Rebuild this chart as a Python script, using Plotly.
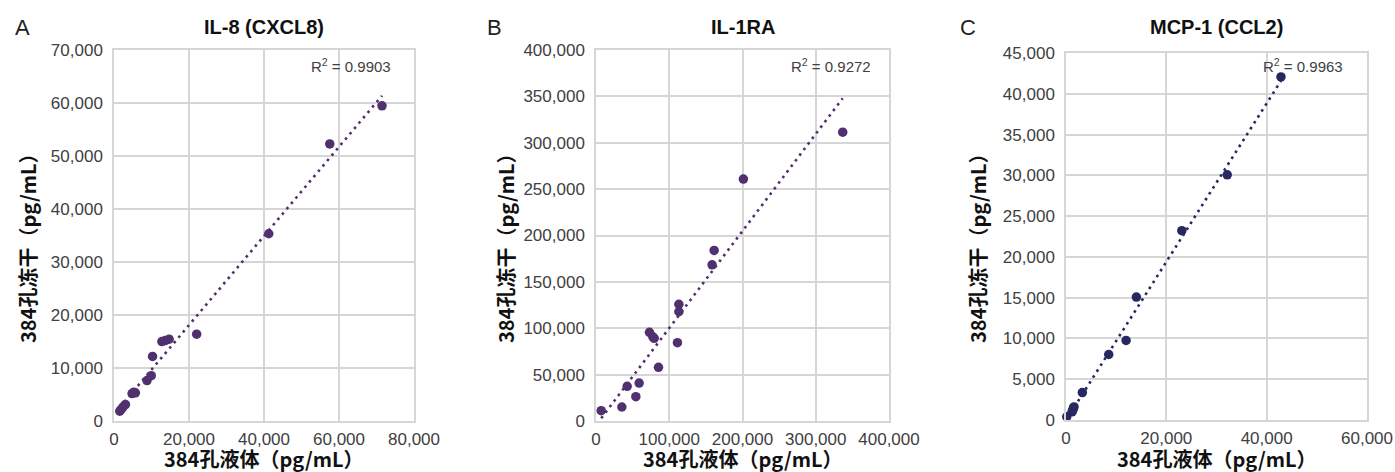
import numpy as np
import plotly.graph_objects as go

W, H = 1395, 472

# ---------------- data ----------------
il8_x = [71470, 57540, 41270, 22040, 12770, 13640, 14700, 10280, 9930, 8800,
         5250, 4820, 5700, 3050, 2440, 1910, 1540]
il8_y = [59460, 52270, 35330, 16380, 14990, 15180, 15440, 12180, 8560, 7620,
         5420, 5180, 5310, 3110, 2680, 2180, 1860]

il1ra_x = [7100, 35300, 54400, 42600, 58900, 85300, 73000, 79400, 77600, 111200,
           113100, 113100, 158500, 161300, 201200, 336800]
il1ra_y = [11100, 15100, 26200, 37400, 40900, 57900, 95600, 89100, 90800, 84400,
           125800, 117800, 168400, 183900, 260800, 311400]

mcp1_x = [42850, 32140, 23090, 14030, 11980, 8520, 3260, 1460, 1340, 1600, 1200, 150]
mcp1_y = [42060, 30060, 23220, 15070, 9750, 8030, 3370, 1470, 1190, 1600, 1000, 400]

titles = ["IL-8 (CXCL8)", "IL-1RA", "MCP-1 (CCL2)"]
letters = ["A", "B", "C"]
r2_labels = ["R<sup>2</sup> = 0.9903", "R<sup>2</sup> = 0.9272", "R<sup>2</sup> = 0.9963"]
x_title = "384孔液体（pg/mL）"
y_title = "384孔冻干（pg/mL）"

x_ranges = [(0, 80000, 20000), (0, 400000, 100000), (0, 60000, 20000)]
y_ranges = [(0, 70000, 10000), (0, 400000, 50000), (0, 45000, 5000)]

# ---------------- style / layout (pixels) ----------------
colors = ["#51306f", "#51306f", "#27285f"]
plot_px = [(114, 414, 50, 421), (596, 889, 50, 421), (1066, 1367, 53, 420)]
letter_px = [22, 494, 968]
ytitle_px = [28, 506, 978]
r2_right_px = [393, 873, 1345]

grid_col = "#d6d6d6"
tick_font = dict(family="Liberation Sans, Arial, sans-serif", size=17, color="#404040")
cjk_font = dict(family="Noto Sans CJK SC, sans-serif", size=20, color="#111111")

def px2x(p):
    return p / W

def px2y(p):
    return 1 - p / H

fig = go.Figure()
datasets = [(il8_x, il8_y), (il1ra_x, il1ra_y), (mcp1_x, mcp1_y)]
annotations = []

for i, (xs, ys) in enumerate(datasets):
    n = i + 1
    xa = "x" if n == 1 else f"x{n}"
    ya = "y" if n == 1 else f"y{n}"
    xs_a = np.array(xs, dtype=float)
    ys_a = np.array(ys, dtype=float)
    slope, icpt = np.polyfit(xs_a, ys_a, 1)
    lx = np.array([xs_a.min(), xs_a.max()])
    ly = slope * lx + icpt

    fig.add_trace(go.Scatter(
        x=lx, y=ly, mode="lines", xaxis=xa, yaxis=ya, showlegend=False,
        line=dict(color=colors[i], width=2.6, dash="2.6px,4.4px"),
        hoverinfo="skip"))
    fig.add_trace(go.Scatter(
        x=xs, y=ys, mode="markers", xaxis=xa, yaxis=ya, showlegend=False,
        cliponaxis=False,
        marker=dict(color=colors[i], size=9.5, line=dict(width=0))))

    l, r, t, b = plot_px[i]
    x0, x1, dx = x_ranges[i]
    y0, y1, dy = y_ranges[i]
    axis_common = dict(showgrid=True, gridcolor=grid_col, gridwidth=1.5,
                       showline=True, linecolor=grid_col, linewidth=1.5, mirror=True,
                       zeroline=False, ticks="", tickfont=tick_font,
                       tickformat=",d", automargin=False)
    fig.layout[f"xaxis{'' if n == 1 else n}"] = dict(
        domain=[px2x(l), px2x(r)], range=[x0, x1], dtick=dx, tick0=0,
        anchor=ya, ticklabelstandoff=2, **axis_common)
    fig.layout[f"yaxis{'' if n == 1 else n}"] = dict(
        domain=[px2y(b), px2y(t)], range=[y0, y1], dtick=dy, tick0=0,
        anchor=xa, ticklabelstandoff=6, **axis_common)

    cx = (l + r) / 2
    annotations.append(dict(text=f"<b>{titles[i]}</b>", x=px2x(cx), y=px2y(27),
                            xref="paper", yref="paper", showarrow=False,
                            xanchor="center", yanchor="middle",
                            font=dict(family="Liberation Sans, Arial, sans-serif",
                                      size=20, color="#111111")))
    annotations.append(dict(text=letters[i], x=px2x(letter_px[i]), y=px2y(28),
                            xref="paper", yref="paper", showarrow=False,
                            xanchor="center", yanchor="middle",
                            font=dict(family="Liberation Sans, Arial, sans-serif",
                                      size=22, color="#222222")))
    annotations.append(dict(text=r2_labels[i], x=px2x(r2_right_px[i]), y=px2y(66),
                            xref="paper", yref="paper", showarrow=False,
                            xanchor="right", yanchor="middle",
                            font=dict(family="Liberation Sans, Arial, sans-serif",
                                      size=15, color="#404040")))
    annotations.append(dict(text=f"<b>{x_title}</b>", x=px2x(cx), y=px2y(458),
                            xref="paper", yref="paper", showarrow=False,
                            xanchor="center", yanchor="middle", font=cjk_font))
    annotations.append(dict(text=f"<b>{y_title}</b>", x=px2x(ytitle_px[i]), y=px2y(243),
                            xref="paper", yref="paper", showarrow=False, textangle=-90,
                            xanchor="center", yanchor="middle", font=cjk_font))

fig.update_layout(width=W, height=H,
                  margin=dict(l=0, r=0, t=0, b=0, pad=0, autoexpand=False),
                  paper_bgcolor="white", plot_bgcolor="white",
                  annotations=annotations, showlegend=False)

fig.write_html("out.html",
               config={"displayModeBar": False},
               post_script="document.body.style.margin='0px';"
                           "document.body.style.overflow='hidden';")
